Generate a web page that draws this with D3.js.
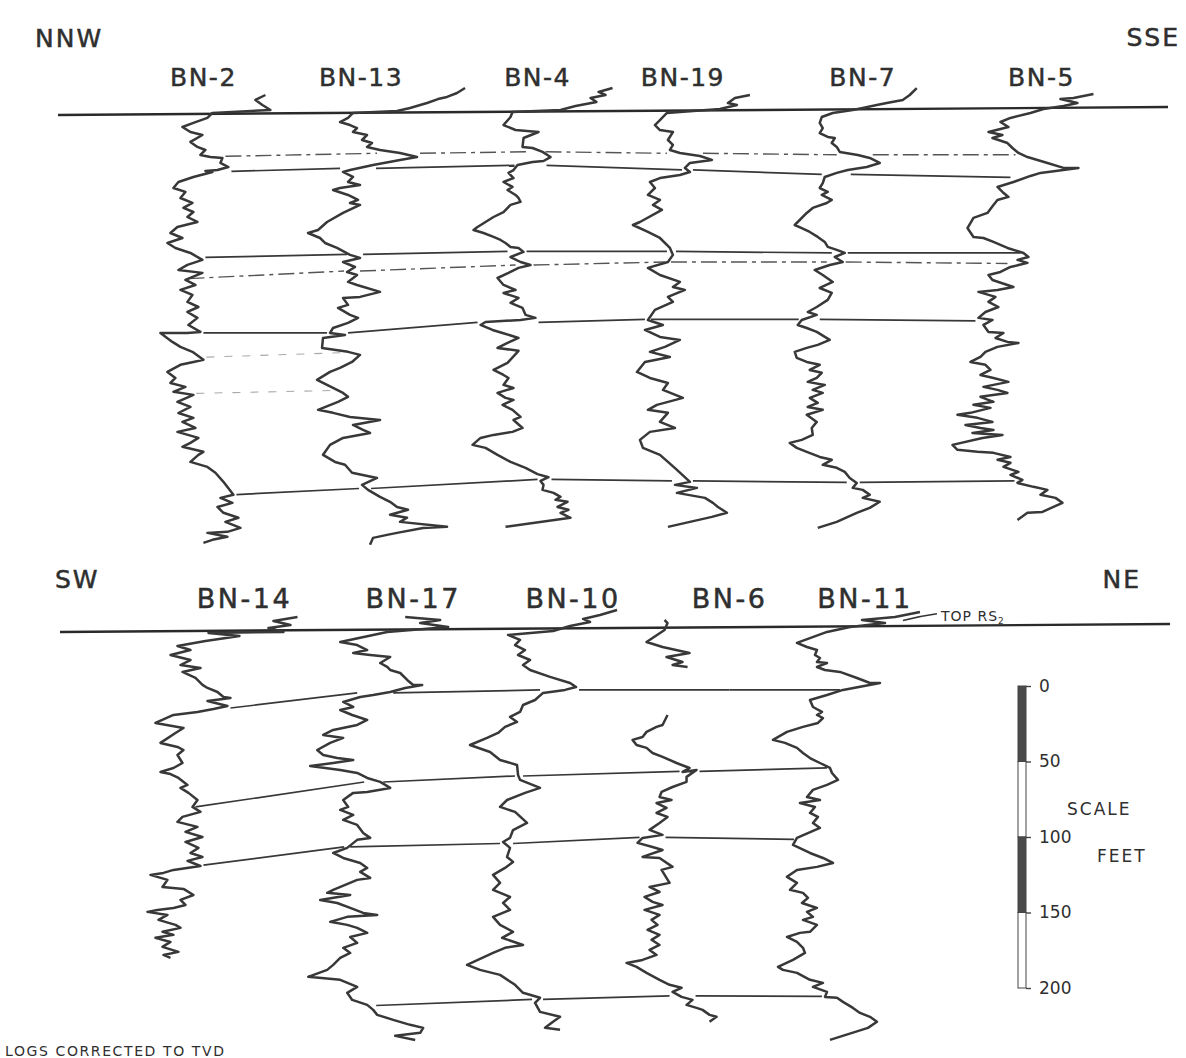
<!DOCTYPE html>
<html>
<head>
<meta charset="utf-8">
<script src="https://cdn.jsdelivr.net/npm/d3@7"></script>
<style>
  body { margin: 0; background: #fff; }
  svg text { font-family: "DejaVu Sans", "Liberation Sans", sans-serif; fill: #2f2f2f; }
</style>
</head>
<body>
<svg id="chart" width="1186" height="1058"></svg>
<script>
// ---------------- Wells (position along section line, arbitrary distance units) ----------------
const topWells = ["BN-2", "BN-13", "BN-4", "BN-19", "BN-7", "BN-5"];
const topWellPos = [1.31, 2.73, 4.32, 5.63, 7.25, 8.86];
const bottomWells = ["BN-14", "BN-17", "BN-10", "BN-6", "BN-11"];
const bottomWellPos = [1.68, 3.20, 4.64, 6.05, 7.27];

// Datum (Top RS2) depth offsets at the left and right end of each section, feet
const topDatumEnds = [2.6, -2.6];
const bottomDatumEnds = [2.6, -2.6];

// ---------------- Log curves: [depth below datum (ft), log deflection (units)] ----------------
// null marks a gap in the record
const logBN2 = [[-10.6,112],[-7.3,102],[-4,109],[-0.7,117],[1.3,59],[4.6,54],[7.9,40],[10.6,29],[13.9,37],[15.9,49],[20.5,37],[23.8,44],[25.8,52],[29.1,47],[30.5,57],[31.1,69],[34.4,67],[37.1,75],[39.1,64],[39.7,52],[40.4,59],[43.7,40],[47,25],[51,20],[53.6,32],[57.6,27],[60.9,39],[64.2,30],[66.9,40],[70.2,34],[73.5,44],[76.8,24],[80.8,17],[84.1,29],[87.4,14],[90.7,22],[94,37],[98.6,49],[101.9,34],[105.3,25],[107.2,49],[111.9,32],[115.2,42],[118.5,27],[121.8,39],[126.4,34],[129.8,45],[133.1,34],[137,44],[141.7,35],[146.3,47],[147,34],[147,7],[152.9,19],[156.2,27],[159.5,39],[164.8,50],[166.2,40],[168.1,27],[172.8,14],[176.8,22],[180.1,17],[182.7,32],[186,20],[188,40],[192.6,24],[196,37],[200,25],[203.2,40],[205.9,29],[209.9,42],[212.5,24],[216.5,45],[219.8,37],[222.4,29],[225.7,50],[227.7,45],[232.4,37],[235.7,54],[239.6,62],[245.6,70],[254.2,80],[256.2,67],[259.5,79],[262.2,64],[266.1,70],[269.4,85],[272.1,72],[276.1,87],[278.7,74],[279.4,54],[282,74],[284,59],[286,50]];
const logBN13 = [[-15.2,154],[-11.9,146],[-9.3,136],[-7.9,127],[-5.3,116],[-2,99],[0,86],[1.3,42],[4.6,37],[7.3,29],[9.3,39],[11.3,46],[13.9,42],[15.9,56],[19.2,51],[21.2,61],[23.8,56],[25.8,69],[27.8,89],[30.5,106],[32.4,89],[35.7,62],[39.1,39],[40.4,32],[43.7,42],[47,37],[49,49],[51,29],[52.3,22],[55.6,37],[58.9,47],[60.9,39],[62.2,49],[67.5,32],[73.5,16],[78.8,7],[80.8,-3],[84.1,9],[87.4,14],[90.7,26],[95.3,39],[97.3,49],[100,32],[103.3,44],[106.6,36],[108.6,46],[113.2,37],[115.2,46],[119.8,69],[123.1,49],[123.8,32],[128.4,37],[130.4,27],[135,39],[137,47],[140.3,37],[143.7,22],[147,19],[148.3,34],[150.3,12],[156.9,11],[159.5,37],[161.5,49],[166.2,41],[170.1,29],[172.8,19],[178.1,6],[181.4,16],[186.7,32],[189.3,37],[192.6,27],[197.9,7],[199.9,22],[202.6,39],[204.6,69],[207.9,42],[211.2,52],[213.2,59],[216.5,32],[221.1,19],[227.7,12],[232.4,24],[234.3,34],[239.6,41],[243,66],[247.6,51],[250.9,57],[255.5,69],[258.8,79],[262.2,86],[264.1,97],[267.4,79],[269.4,96],[272.1,89],[275.4,136],[276.1,112],[279.4,86],[280.7,76],[282.7,62],[287.3,59]];
const logBN4 = [[-15.2,125],[-12.6,111],[-10.6,118],[-8.6,103],[-6,109],[-3.3,88],[-0.7,73],[0.7,25],[4,23],[9.3,16],[12.6,28],[13.9,51],[17.9,36],[23.8,35],[24.5,45],[27.1,55],[30.5,63],[33.1,56],[33.8,45],[35.7,30],[39.1,26],[41,21],[44.4,26],[47,16],[50.3,25],[52.3,20],[55.6,28],[57.6,31],[60.2,33],[62.2,23],[66.9,16],[70.2,6],[73.5,-2],[76.8,-10],[78.8,-14],[80.8,-4],[83.4,6],[85.4,13],[87.4,18],[90,23],[90.7,31],[93.3,36],[96.7,23],[100,33],[102,43],[103.9,31],[107.2,21],[110.6,10],[115.2,16],[118.5,28],[120.5,16],[123.8,31],[127.1,23],[130.4,35],[135,38],[137,48],[138.4,33],[139.7,-2],[141.7,-7],[145,5],[147,15],[150.3,31],[153.6,20],[156.9,10],[158.8,31],[166.8,20],[171.5,6],[174.8,16],[176.8,21],[181.4,16],[183.4,26],[186.7,10],[190,18],[191.3,26],[194.6,15],[197.9,25],[202.6,33],[204.6,26],[209.9,35],[212.5,25],[214.5,6],[216.5,-7],[221.1,-15],[223.1,-2],[227.7,10],[232.4,23],[236.3,38],[240.5,50],[242.5,61],[245,53],[247.6,56],[250.9,55],[252.9,66],[255.5,73],[257.5,68],[258.8,80],[262.2,70],[264.1,81],[266.1,73],[269.4,83],[275.4,18]];
const logBN19 = [[-10.6,117],[-8.6,102],[-5.3,95],[-4,104],[-1.3,87],[1.3,34],[6,27],[9.3,22],[12.6,27],[13.9,40],[19.2,35],[22.5,40],[25.8,37],[27.8,47],[29.8,67],[32.4,79],[34.4,57],[37.7,52],[40.4,57],[42.4,47],[44.4,27],[47,17],[51,22],[55.6,15],[58.9,27],[62.2,20],[65.5,29],[73.5,7],[75.5,0],[80.1,15],[84.1,27],[90.7,37],[95.3,40],[100,35],[103.9,15],[108.6,27],[113.2,47],[116.5,40],[118.5,52],[123.1,35],[126.4,40],[131.7,22],[138.4,15],[141.7,30],[145,12],[149.6,27],[151.6,47],[156.2,32],[159.5,17],[162.9,37],[166.2,12],[172.8,4],[176.8,17],[180.1,35],[184.7,30],[190,50],[194.6,24],[197.9,15],[199.9,35],[205.9,27],[209.9,42],[212.5,17],[217.8,7],[223.1,10],[227.7,27],[232.4,35],[237.7,44],[245.6,57],[247.6,42],[249.6,64],[252.9,44],[256.2,72],[259.5,80],[262.2,85],[266.1,94],[268.8,79],[275.4,35]];
const logBN7 = [[-15.2,104],[-10.6,97],[-7.3,90],[-5.3,74],[-4,64],[-2,50],[-0.7,40],[1.3,20],[4,9],[7.9,7],[11.3,10],[14.6,7],[17.2,15],[17.9,22],[21.2,19],[23.8,24],[27.1,27],[29.1,45],[31.1,57],[34.4,67],[37.1,54],[39.1,35],[41,24],[43.7,12],[47.7,10],[51,7],[53.6,15],[55.6,9],[58.9,19],[60.9,14],[64.2,0],[67.5,-6],[75.5,-18],[77.5,-11],[80.1,-3],[83.4,5],[86.7,12],[90,15],[92,24],[94,32],[96.7,22],[100,30],[102,17],[105.3,2],[108.6,10],[113.2,20],[117.2,7],[120.5,19],[125.1,15],[129.8,4],[133.1,-5],[135,4],[138.4,-11],[141.7,-15],[143.7,-6],[146.3,4],[151.6,17],[154.9,5],[156.9,-6],[159.5,-18],[163.5,-16],[166.2,-6],[168.1,7],[171.5,-3],[173.4,9],[176.8,4],[179.4,-5],[181.4,12],[184.7,0],[186.7,10],[190,-3],[193.3,5],[196,-5],[197.9,10],[201.2,-6],[205.9,4],[209.9,-1],[214.5,0],[217.8,-11],[219.8,-23],[223.1,-16],[225.7,-6],[229.1,7],[231,19],[234.3,10],[236.3,24],[239,32],[243,37],[246.3,44],[249.6,40],[250.9,50],[254.2,57],[256.2,50],[258.8,67],[262.8,57],[266.1,44],[272.1,24],[276.1,5]];
const logBN5 = [[-11.3,102],[-8.6,82],[-7.9,69],[-5.3,86],[-3.3,72],[-1.3,52],[1.3,39],[4.6,19],[7.3,9],[10.6,17],[13.9,-3],[15.9,11],[17.9,1],[21.2,16],[24.5,21],[27.8,27],[30.5,36],[34.4,56],[37.7,72],[37.7,87],[41,49],[43,39],[47,22],[50.3,6],[53.6,11],[56.9,17],[58.9,6],[62.2,2],[67.5,-4],[70.8,-18],[77.5,-24],[83.4,-18],[84.1,-8],[86.7,2],[88.7,9],[90.7,16],[94,32],[96.7,37],[98.6,26],[100.6,36],[103.3,19],[106.6,9],[108.6,-3],[111.9,1],[115.2,16],[116.5,22],[118.5,6],[119.8,-13],[123.1,4],[126.4,-3],[129.8,7],[133.1,-6],[137,-13],[138.4,1],[141.7,-8],[146.3,-3],[147,12],[150.3,4],[152.9,16],[153.6,27],[156.2,6],[159.5,-6],[162.9,-11],[166.2,-21],[168.1,-6],[171.5,-1],[174.8,-11],[176.8,2],[179.4,17],[182.7,-8],[184.7,6],[186.7,16],[189.3,-11],[192.6,2],[194.6,-18],[196.6,-1],[199.9,-21],[201.2,-34],[203.2,-14],[205.9,1],[207.9,-26],[209.9,-11],[211.2,2],[213.2,-19],[214.5,11],[216.5,-9],[221.1,-39],[224.4,-34],[225.7,-14],[226.4,2],[229.1,19],[231,6],[233,19],[235.7,12],[239,27],[241,19],[244.3,31],[246.3,26],[248.9,42],[250.9,56],[254.2,49],[256.2,64],[259.5,71],[262.2,62],[265.5,51],[266.1,36],[270.8,26]];

const logBN14 = [[-7.3,103],[-4.6,79],[-2,96],[0,74],[2.6,89],[3.3,14],[5.3,45],[8.6,11],[11.9,-17],[14.6,-4],[17.9,-24],[21.2,-4],[24.5,-14],[26.5,6],[29.1,-12],[33.1,1],[37.7,8],[39.7,13],[42.4,23],[45.7,29],[46.3,36],[48.3,13],[51.6,33],[53.6,19],[55.6,3],[57.6,-21],[62.9,-39],[66.2,-11],[69.5,-19],[76.1,-34],[78.8,-17],[80.8,-11],[84.1,-17],[89.4,-12],[92.7,-21],[95.3,-34],[96.7,-24],[99.3,-16],[103.9,-7],[105.9,-14],[109.2,-6],[113.9,3],[118.5,-2],[121.8,6],[125.1,-12],[128.4,-17],[131.7,3],[135,-9],[138.4,8],[141.7,-9],[145.6,4],[149,-4],[151.6,8],[154.2,-7],[157.6,6],[160.2,-21],[162.2,-31],[163.5,-44],[166.8,-27],[171.5,-32],[172.8,-11],[176.8,-1],[180.1,-14],[183.4,-9],[185.4,-21],[186.7,-37],[188,-47],[190,-27],[193.3,-36],[196.6,-19],[198.6,-14],[201.2,-32],[203.2,-21],[205.2,-39],[207.9,-24],[211.2,-32],[214.5,-16],[216.5,-31],[218.5,-24]];
const logBN17 = [[-7.3,42],[-5.3,77],[-3.3,57],[-0.7,85],[2.6,24],[9.3,-23],[11.3,-6],[14.6,4],[16.6,-10],[17.9,7],[19.2,27],[23.2,17],[25.8,24],[27.8,27],[29.8,37],[34.4,44],[37.7,50],[37.7,59],[39.7,42],[42.4,27],[44.4,10],[45.7,-3],[49,-20],[52.3,-10],[54.3,-23],[57.6,-11],[60.9,4],[64.2,-6],[67.5,-30],[70.8,-40],[72.8,-20],[76.1,-33],[80.8,-46],[84.1,-40],[86.1,-26],[87.4,-10],[89.4,-30],[91.4,-53],[94,-23],[96,-6],[99.3,4],[101.9,17],[105.9,27],[108.6,4],[109.2,-10],[113.9,-20],[118.5,-15],[120.5,-23],[123.8,-10],[127.1,-20],[130.4,-6],[135.7,0],[139,7],[140.3,-6],[145.6,-16],[149,-30],[152.3,-20],[155.6,-3],[158.9,4],[161.5,-3],[165.5,7],[166.8,-6],[173.4,-30],[175.4,-36],[176.8,-13],[180.1,-43],[182.1,-26],[185.4,-13],[188.7,0],[190,14],[191.3,-16],[194.6,-33],[196.6,-16],[198.6,-6],[201.9,4],[204.6,-13],[208.5,-6],[211.8,-20],[215.2,-13],[218.5,-23],[223.1,-30],[226.4,-36],[231,-55],[233,-23],[237.7,-6],[241.6,-16],[246.3,-11],[249.6,4],[252.9,10],[256.2,14],[259.5,30],[262.8,47],[264.8,60],[268.1,57],[270.1,32],[272.8,52]];
const logBN10 = [[-11.9,94],[-8.6,77],[-6,60],[-4,67],[-1.3,47],[2,30],[4.6,-15],[7.9,-3],[11.3,-8],[14.6,2],[17.9,-5],[21.2,7],[24.5,0],[27.8,7],[32.4,27],[36.4,47],[39.1,53],[41,42],[43,20],[47.7,12],[51,0],[55.6,-3],[58.9,-13],[62.2,-6],[65.5,-18],[69.5,-25],[72.8,-36],[77.5,-53],[82.1,-33],[87.4,-23],[90.7,-6],[97.3,-5],[100.6,-3],[105.9,17],[109.2,2],[113.9,-16],[118.5,-23],[121.8,-8],[129.1,4],[133.8,-10],[139,-13],[141.7,-20],[145.6,-13],[151.6,-16],[154.9,-10],[158.9,-18],[163.5,-30],[168.8,-23],[173.4,-30],[178.1,-13],[182.1,-20],[186.7,-13],[191.3,-30],[196.6,-23],[201.2,-10],[205.2,-21],[209.9,0],[211.8,-18],[215.2,-30],[223.1,-56],[226.4,-43],[229.7,-23],[236.3,-8],[241.6,0],[244.9,17],[248.3,12],[254.2,17],[257.5,37],[260.8,30],[264.8,22],[266.1,37]];
const logBN6 = [[-5.3,-15],[-3.3,-12],[1.3,-15],[9.3,-33],[12.6,-17],[16.6,10],[19.2,-13],[22.5,3],[24.5,-7],[25.8,8],null,[57.6,-12],[64.2,-17],[65.5,-23],[68.8,-33],[72.2,-37],[74.1,-47],[77.5,-43],[79.4,-33],[82.8,-27],[85.4,-17],[89.4,-3],[92.7,10],[95.3,3],[94,17],[98.6,7],[101.9,7],[105.3,-7],[108.6,-18],[111.9,-20],[113.9,-8],[115.9,-23],[119.2,-13],[122.5,-23],[125.1,-12],[129.1,-20],[133.7,-30],[137,-17],[139,-37],[142.3,-42],[145,-27],[147,-17],[151.6,-37],[152.3,-20],[158.2,-7],[160.2,-18],[168.8,-10],[171.5,-30],[174.8,-20],[178.1,-35],[181.4,-27],[183.4,-17],[186.7,-35],[190,-20],[193.3,-28],[196.6,-22],[199.9,-32],[203.2,-20],[206.5,-28],[209.9,-20],[213.2,-30],[216.5,-23],[219.8,-37],[221.8,-53],[224.4,-43],[228.4,-33],[233,-20],[236.3,-10],[238.3,2],[241,-7],[244.3,2],[246.3,13],[249.6,7],[251.6,17],[252.9,23],[256.2,30],[257.5,37],[260.8,30]];
const logBN11 = [[-10.6,105],[-7.3,80],[-5.3,47],[-3.3,70],[-0.7,35],[2.6,12],[9.9,-18],[12.6,-8],[14.6,2],[17.9,0],[19.9,5],[22.5,2],[23.2,12],[25.8,2],[27.8,10],[29.1,25],[33.1,42],[36.4,55],[36.4,65],[41,28],[44.4,12],[47.7,-5],[52.3,-2],[55.6,7],[57.6,2],[59.6,8],[62.9,3],[65.5,-12],[68.8,-28],[74.1,-42],[76.1,-30],[79.4,-18],[82.8,-12],[86.1,-5],[89.4,5],[92.7,15],[96,17],[100.6,23],[103.9,12],[107.2,-2],[111.9,-8],[113.9,5],[115.9,-15],[118.5,0],[122.5,-5],[125.1,3],[129.1,-2],[132.4,5],[139,-18],[143.7,-22],[149,-5],[152.3,8],[155.6,18],[158.2,2],[160.2,-18],[164.8,-28],[168.8,-18],[173.4,-25],[175.4,-12],[178.7,-7],[182.1,-13],[185.4,2],[188,-8],[191.3,-2],[193.3,-12],[196.6,2],[201.2,-5],[201.9,-15],[204.6,-28],[207.9,-18],[211.8,-12],[215.2,-10],[219.8,-22],[224.4,-37],[226.4,-32],[228.4,-18],[233,-5],[235,8],[237.7,-2],[241,12],[244.3,10],[244.9,22],[247.6,28],[249.6,33],[251.6,38],[254.9,45],[257.5,55],[260.8,62],[264.8,53],[272.8,15]];

const topLogs = [logBN2, logBN13, logBN4, logBN19, logBN7, logBN5];
const bottomLogs = [logBN14, logBN17, logBN10, logBN6, logBN11];

// ---------------- Correlation markers: depth (ft) at each well, null = not picked ----------------
const topMarkerA = [30, 28, 27, 28, 29, 29];
const topMarkerB = [40, 38, 36, 39, 42, 44];
const topMarkerC = [97, 95, 93, 93, 94, 94];
const topMarkerD = [111, 106, 102, 100, 100, 101];
const topMarkerE = [147, 147, 140, 138, 138, 139];
const topMarkerF = [163, 160, null, null, null, null];
const topMarkerH = [187, 185, null, null, null, null];
const topMarkerG = [254, 250, 244, 245, 246, 245];

const bottomMarker1 = [53, 43, 41, 41, 41];
const bottomMarker2 = [118.5, 102, 98, 95, 92.6];
const bottomMarker3 = [157, 145, 142.7, 138.7, 140];
const bottomMarker4 = [null, 250, 246, 243.6, 244];

// Scale bar ticks, feet
const scaleTicks = [0, 50, 100, 150, 200];

// ---------------- Scales ----------------
const svg = d3.select("#chart");
const xSection = d3.scaleLinear().domain([0, 10]).range([58, 1168]);
const depthScale = d3.scaleLinear().domain([0, 200]).range([0, 302]);
const deflection = d3.scaleLinear().domain([0, 100]).range([-50, 50]);

const ink = "#343434";

const panels = [
  {
    datumY: 111, x0: 58, x1: 1168, datumEnds: topDatumEnds,
    wells: topWells, pos: topWellPos, logs: topLogs, labelY: 86, labelSize: 25, labelSpacing: 1.5,
    markers: [
      { depths: topMarkerA, style: "dash" },
      { depths: topMarkerB, style: "solid" },
      { depths: topMarkerC, style: "solid" },
      { depths: topMarkerD, style: "dash" },
      { depths: topMarkerE, style: "solid" },
      { depths: topMarkerF, style: "faint" },
      { depths: topMarkerH, style: "faint" },
      { depths: topMarkerG, style: "solid" }
    ]
  },
  {
    datumY: 628, x0: 60, x1: 1170, datumEnds: bottomDatumEnds,
    wells: bottomWells, pos: bottomWellPos, logs: bottomLogs, labelY: 608, labelSize: 27, labelSpacing: 2.5,
    markers: [
      { depths: bottomMarker1, style: "solid" },
      { depths: bottomMarker2, style: "solid" },
      { depths: bottomMarker3, style: "solid" },
      { depths: bottomMarker4, style: "solid" }
    ]
  }
];

// extent of a log curve near a given depth (deflection units), or null if no record there
function curveEdge(log, d, side) {
  const pts = log.filter(p => p && Math.abs(p[0] - d) <= 3);
  if (!pts.length) return null;
  return side > 0 ? d3.max(pts, p => p[1]) : d3.min(pts, p => p[1]);
}

const markerStyles = {
  solid: { width: 1.7, color: "#383838", dash: null },
  dash:  { width: 1.4, color: "#555", dash: "16,5,4,5" },
  faint: { width: 1.1, color: "#aaa", dash: "8,10" }
};

panels.forEach(p => {
  const g = svg.append("g");
  const wx = p.pos.map(v => xSection(v));

  // datum line (top of RS2)
  g.append("line")
    .attr("x1", p.x0).attr("x2", p.x1)
    .attr("y1", p.datumY + depthScale(p.datumEnds[0]))
    .attr("y2", p.datumY + depthScale(p.datumEnds[1]))
    .attr("stroke", "#2a2a2a").attr("stroke-width", 2.4);

  // correlation markers between neighbouring wells
  p.markers.forEach(m => {
    const st = markerStyles[m.style];
    for (let i = 0; i < wx.length - 1; i++) {
      const d0 = m.depths[i], d1 = m.depths[i + 1];
      if (d0 == null || d1 == null) continue;
      const r = curveEdge(p.logs[i], d0, 1);
      const l = curveEdge(p.logs[i + 1], d1, -1);
      const xs = r == null ? wx[i] : wx[i] + deflection(r) + 3;
      const xe = l == null ? wx[i + 1] : wx[i + 1] + deflection(l) - 3;
      g.append("line")
        .attr("x1", xs).attr("x2", xe)
        .attr("y1", p.datumY + depthScale(d0))
        .attr("y2", p.datumY + depthScale(d1))
        .attr("stroke", st.color).attr("stroke-width", st.width)
        .attr("stroke-dasharray", st.dash);
    }
  });

  // log curves
  p.logs.forEach((log, i) => {
    const line = d3.line()
      .defined(d => d != null)
      .x(d => wx[i] + deflection(d[1]))
      .y(d => p.datumY + depthScale(d[0]));
    g.append("path")
      .attr("d", line(log))
      .attr("fill", "none")
      .attr("stroke", "#383838")
      .attr("stroke-width", 2.5)
      .attr("stroke-linejoin", "round");
  });

  // well names
  g.selectAll("text.well").data(p.wells).join("text")
    .attr("class", "well")
    .attr("x", (d, i) => wx[i]).attr("y", p.labelY)
    .attr("text-anchor", "middle")
    .attr("font-size", p.labelSize).attr("letter-spacing", p.labelSpacing)
    .attr("stroke", "#2f2f2f").attr("stroke-width", 0.5)
    .text(d => d);
});

// section direction labels
const dirs = [
  { t: "NNW", x: 35, y: 47, a: "start" },
  { t: "SSE", x: 1180, y: 46, a: "end" },
  { t: "SW", x: 55, y: 588, a: "start" },
  { t: "NE", x: 1141, y: 588, a: "end" }
];
svg.selectAll("text.dir").data(dirs).join("text")
  .attr("class", "dir")
  .attr("x", d => d.x).attr("y", d => d.y)
  .attr("text-anchor", d => d.a)
  .attr("font-size", 25).attr("letter-spacing", 2)
  .attr("stroke", "#2f2f2f").attr("stroke-width", 0.5)
  .text(d => d.t);

// TOP RS2 annotation next to BN-11
{
  const xw = xSection(bottomWellPos[4]);
  const yTop = 628;
  svg.append("path")
    .attr("d", `M${xw + 38},${yTop + depthScale(-5)} Q${xw + 55},${yTop + depthScale(-8)} ${xw + 72},${yTop + depthScale(-9.5)}`)
    .attr("fill", "none").attr("stroke", ink).attr("stroke-width", 1.5);
  const t = svg.append("text")
    .attr("x", xw + 76).attr("y", 621)
    .attr("font-size", 14).attr("letter-spacing", 1);
  t.append("tspan").text("TOP RS");
  t.append("tspan").attr("font-size", 9).attr("dy", 3).text("2");
}

// vertical scale bar in feet
{
  const bx = 1018, by = 686, bw = 8;
  const sg = svg.append("g");
  const segs = d3.pairs(scaleTicks);
  sg.selectAll("rect").data(segs).join("rect")
    .attr("x", bx).attr("width", bw)
    .attr("y", d => by + depthScale(d[0]))
    .attr("height", d => depthScale(d[1]) - depthScale(d[0]))
    .attr("fill", (d, i) => i % 2 === 0 ? "#4a4a4a" : "#fff")
    .attr("stroke", "#444").attr("stroke-width", 1);
  const axis = d3.axisRight(depthScale).tickValues(scaleTicks).tickSize(5).tickPadding(8);
  const ag = sg.append("g").attr("transform", `translate(${bx + bw},${by})`).call(axis);
  ag.select(".domain").remove();
  ag.selectAll(".tick line").attr("stroke", "#444").attr("stroke-width", 1.4);
  ag.selectAll(".tick text")
    .attr("font-size", 17).attr("fill", "#2f2f2f")
    .attr("font-family", "DejaVu Sans, sans-serif");
  sg.append("text").attr("x", 1067).attr("y", 815).attr("font-size", 17).attr("letter-spacing", 2).text("SCALE");
  sg.append("text").attr("x", 1097).attr("y", 862).attr("font-size", 17).attr("letter-spacing", 2).text("FEET");
}

// footnote
svg.append("text")
  .attr("x", 5).attr("y", 1056)
  .attr("font-size", 14).attr("letter-spacing", 1.6)
  .text("LOGS CORRECTED TO TVD");
</script>
</body>
</html>
